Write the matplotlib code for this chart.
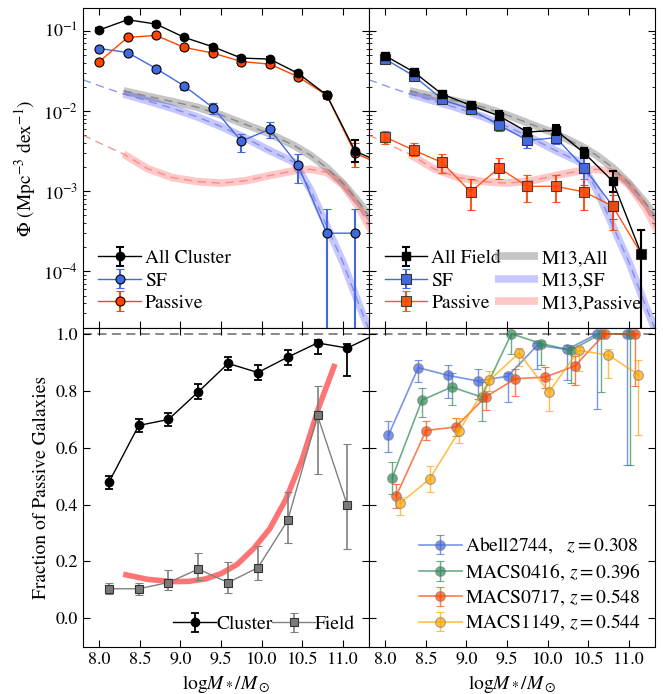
import numpy as np
import matplotlib
matplotlib.use('Agg')
import matplotlib.pyplot as plt

plt.rcParams['font.family'] = ['STIXGeneral', 'DejaVu Serif']
plt.rcParams['mathtext.fontset'] = 'stix'
plt.rcParams['xtick.direction'] = 'in'
plt.rcParams['ytick.direction'] = 'in'
plt.rcParams['xtick.top'] = True
plt.rcParams['ytick.right'] = True

# ---- top panels: stellar mass functions ----
mass_smf = [8.0, 8.35, 8.7, 9.05, 9.4, 9.75, 10.1, 10.45, 10.8, 11.15, 11.5]

cl_all = [0.102, 0.137, 0.121, 0.0824, 0.063, 0.0456, 0.0443, 0.0293, 0.0158, 0.00316, 0.0022]
cl_all_lo = [0.097, 0.131, 0.115, 0.078, 0.059, 0.0425, 0.041, 0.027, 0.0145, 0.00234, 0.0018]
cl_all_hi = [0.107, 0.143, 0.127, 0.087, 0.067, 0.049, 0.0475, 0.0318, 0.0172, 0.0043, 0.0027]

cl_sf = [0.060, 0.0535, 0.0338, 0.0204, 0.011, 0.00422, 0.0059, 0.0021, 0.0003, 0.0003]
cl_sf_lo = [0.057, 0.050, 0.0315, 0.0185, 0.0091, 0.0031, 0.0046, 0.00127, 1e-6, 1e-6]
cl_sf_hi = [0.063, 0.057, 0.0362, 0.0225, 0.0127, 0.0052, 0.0073, 0.0029, 0.0006, 0.0006]

cl_pas = [0.041, 0.0824, 0.0873, 0.0618, 0.0526, 0.0413, 0.0383, 0.0266, 0.0157, 0.00296, 0.0021]
cl_pas_lo = [0.038, 0.078, 0.083, 0.058, 0.049, 0.038, 0.035, 0.024, 0.0142, 0.0020, 0.0016]
cl_pas_hi = [0.044, 0.087, 0.092, 0.065, 0.056, 0.045, 0.042, 0.029, 0.0173, 0.0040, 0.0026]

fd_all = [0.0487, 0.0307, 0.0162, 0.0118, 0.00866, 0.00546, 0.00574, 0.00299, 0.00133, 0.000166]
fd_all_lo = [0.046, 0.029, 0.0152, 0.0110, 0.0077, 0.0049, 0.0050, 0.0026, 0.00098, 1e-6]
fd_all_hi = [0.0515, 0.0325, 0.0172, 0.0127, 0.0100, 0.0062, 0.0066, 0.0035, 0.00178, 0.00033]

fd_sf = [0.0443, 0.0274, 0.014, 0.0105, 0.00668, 0.0043, 0.00464, 0.00195, 0.00065]
fd_sf_lo = [0.042, 0.026, 0.0132, 0.0098, 0.0056, 0.00349, 0.00386, 0.0012, 0.00045]
fd_sf_hi = [0.047, 0.029, 0.0148, 0.0112, 0.0077, 0.00522, 0.00575, 0.0026, 0.0009]

fd_pas = [0.00473, 0.00325, 0.00228, 0.00098, 0.00195, 0.00115, 0.00115, 0.00098, 0.00065, 0.000166]
fd_pas_lo = [0.0039, 0.00275, 0.00169, 0.00059, 0.00143, 0.00073, 0.00073, 0.00059, 0.00033, 1e-6]
fd_pas_hi = [0.0056, 0.0040, 0.0029, 0.00141, 0.00256, 0.0016, 0.0016, 0.00143, 0.0010, 0.00033]

# Muzzin+13 curves
m13_mass = [7.8, 8.05, 8.3, 8.6, 8.9, 9.2, 9.5, 9.8, 10.1, 10.4, 10.6, 10.8, 11.0, 11.2, 11.35]
m13_all = [0.026, 0.0215, 0.0178, 0.0152, 0.0131, 0.0112, 0.0089, 0.0068, 0.0052, 0.0037, 0.0028,
           0.00196, 0.00125, 0.00072, 0.00045]
m13_sf = [0.0245, 0.0198, 0.0163, 0.0133, 0.0108, 0.0085, 0.0064, 0.0046, 0.0032, 0.0023, 0.00105,
          0.00037, 0.00013, 0.000038, 0.000016]
m13_pas = [0.0050, 0.0038, 0.0029, 0.0019, 0.00148, 0.00132, 0.00126, 0.00135, 0.00157, 0.0018,
           0.00188, 0.00172, 0.0012, 0.00062, 0.00032]
m13_start = 8.3

# ---- bottom panels: passive fractions ----
mass_frac = [8.12, 8.487, 8.853, 9.22, 9.587, 9.953, 10.32, 10.687, 11.053, 11.42]

frac_cl = [0.478, 0.678, 0.699, 0.796, 0.896, 0.864, 0.918, 0.968, 0.950, 1.0]
frac_cl_lo = [0.455, 0.656, 0.677, 0.770, 0.873, 0.838, 0.891, 0.930, 0.852, 1.0]
frac_cl_hi = [0.501, 0.700, 0.721, 0.822, 0.919, 0.890, 0.942, 0.978, 0.964, 1.0]

frac_fd = [0.104, 0.104, 0.126, 0.173, 0.126, 0.178, 0.344, 0.713, 0.398]
frac_fd_lo = [0.084, 0.082, 0.099, 0.136, 0.090, 0.135, 0.266, 0.509, 0.242]
frac_fd_hi = [0.124, 0.126, 0.169, 0.230, 0.199, 0.256, 0.444, 0.817, 0.613]

fit_mass = [8.33, 8.6, 8.9, 9.1, 9.3, 9.5, 9.7, 9.9, 10.1, 10.3, 10.5, 10.7, 10.89]
fit_frac = [0.153, 0.137, 0.129, 0.130, 0.138, 0.157, 0.190, 0.245, 0.315, 0.420, 0.560, 0.740, 0.885]

cluster_names = ['Abell2744,   $z=$0.308', 'MACS0416, $z=$0.396',
                 'MACS0717, $z=$0.548', 'MACS1149, $z=$0.544']
cluster_colors = ['royalblue', 'seagreen', 'orangered', 'orange']
cluster_shift = [-0.08, -0.035, 0.015, 0.06]
cluster_frac = [
    [0.644, 0.881, 0.854, 0.834, 0.851, 0.960, 0.945, 1.0, 1.0],
    [0.493, 0.767, 0.813, 0.778, 1.0, 0.966, 0.942, 1.0, 1.0],
    [0.430, 0.660, 0.673, 0.778, 0.842, 0.848, 0.887, 1.0, 1.0],
    [0.404, 0.490, 0.660, 0.836, 0.933, 0.795, 0.942, 0.925, 0.857],
]
cluster_lo = [
    [0.584, 0.830, 0.775, 0.772, 0.760, 0.877, 0.836, 0.737, 0.540],
    [0.438, 0.709, 0.750, 0.695, 0.928, 0.890, 0.828, 0.795, 0.540],
    [0.389, 0.626, 0.640, 0.734, 0.783, 0.810, 0.819, 1.0, 0.816],
    [0.362, 0.443, 0.617, 0.798, 0.887, 0.728, 0.871, 0.843, 0.643],
]
cluster_hi = [
    [0.693, 0.907, 0.892, 0.877, 0.863, 0.968, 0.960, 1.0, 1.0],
    [0.549, 0.808, 0.863, 0.830, 1.0, 0.974, 0.953, 1.0, 1.0],
    [0.473, 0.692, 0.705, 0.799, 0.877, 0.883, 0.922, 1.0, 1.0],
    [0.428, 0.535, 0.705, 0.871, 0.951, 0.840, 0.953, 0.947, 0.908],
]


def yerr(y, lo, hi):
    y = np.asarray(y)
    return [y - np.asarray(lo), np.asarray(hi) - y]


def draw_m13(ax, with_labels=False):
    m = np.asarray(m13_mass)
    keep = m >= m13_start - 0.01
    # (values, band colour, band alpha, dash colour, label, dashed extension to low mass)
    specs = [(m13_all, 'gray', 0.45, '#7a7a7a', 'M13,All', False),
             (m13_sf, 'blue', 0.22, '#7080e0', 'M13,SF', True),
             (m13_pas, 'red', 0.22, '#f08080', 'M13,Passive', True)]
    handles = []
    for vals, col, al, dcol, lab, ext in specs:
        v = np.asarray(vals)
        h, = ax.plot(m[keep], v[keep], color=col, alpha=al, lw=5.5,
                     solid_capstyle='butt', zorder=1,
                     label=lab if with_labels else None)
        dsel = slice(None) if ext else keep
        ax.plot(m[dsel], v[dsel], color=dcol, lw=1.0, ls=(0, (6, 4)), alpha=0.8, zorder=2)
        handles.append(h)
    return handles


fig, axes = plt.subplots(2, 2, figsize=(6.63, 6.94), dpi=100, sharex=True, sharey='row',
                         gridspec_kw=dict(hspace=0, wspace=0))
fig.subplots_adjust(left=0.125, right=0.988, top=0.988, bottom=0.068)
ax_tl, ax_tr = axes[0]
ax_bl, ax_br = axes[1]

# top left: cluster SMF
draw_m13(ax_tl)
e_all = ax_tl.errorbar(mass_smf, cl_all, yerr=yerr(cl_all, cl_all_lo, cl_all_hi), fmt='-o',
                       color='k', mfc='k', mec='k', ms=6, lw=1, elinewidth=1.5, capsize=3,
                       capthick=1.5, label='All Cluster', zorder=5)
e_sf = ax_tl.errorbar(mass_smf[:10], cl_sf, yerr=yerr(cl_sf, cl_sf_lo, cl_sf_hi), fmt='-o',
                      color='royalblue', mec='k', mew=0.8, ms=6.5, lw=1, elinewidth=1.5,
                      capsize=3, capthick=1.5, label='SF', zorder=4)
e_pas = ax_tl.errorbar(mass_smf, cl_pas, yerr=yerr(cl_pas, cl_pas_lo, cl_pas_hi), fmt='-o',
                       color='orangered', mec='k', mew=0.8, ms=6.5, lw=1, elinewidth=1.5,
                       capsize=3, capthick=1.5, label='Passive', zorder=4)
ax_tl.set_yscale('log')
ax_tl.set_ylim(2e-5, 0.19)
ax_tl.set_ylabel(r'$\Phi$ (Mpc$^{-3}$ dex$^{-1}$)', fontsize=14)
ax_tl.legend(handles=[e_all, e_sf, e_pas], loc='lower left', frameon=False, fontsize=14,
             handlelength=2.2, handletextpad=0.2, labelspacing=0.25, borderaxespad=0.4)

# top right: field SMF
m13_handles = draw_m13(ax_tr, with_labels=True)
f_all = ax_tr.errorbar(mass_smf[:10], fd_all, yerr=yerr(fd_all, fd_all_lo, fd_all_hi), fmt='-s',
                       color='k', mfc='k', mec='k', ms=6, lw=1, elinewidth=1.5, capsize=3,
                       capthick=1.5, label='All Field', zorder=5)
f_sf = ax_tr.errorbar(mass_smf[:9], fd_sf, yerr=yerr(fd_sf, fd_sf_lo, fd_sf_hi), fmt='-s',
                      color='royalblue', mec='#333333', mew=0.8, ms=6.5, lw=1, elinewidth=1.5,
                      capsize=3, capthick=1.5, label='SF', zorder=4)
f_pas = ax_tr.errorbar(mass_smf[:10], fd_pas, yerr=yerr(fd_pas, fd_pas_lo, fd_pas_hi), fmt='-s',
                       color='orangered', mec='#333333', mew=0.8, ms=6.5, lw=1, elinewidth=1.5,
                       capsize=3, capthick=1.5, label='Passive', zorder=4, alpha=0.9)
ax_tr.tick_params(labelleft=False)
ax_tr.legend(handles=[f_all, f_sf, f_pas] + m13_handles, loc='lower left', frameon=False,
             fontsize=14, ncol=2, handlelength=2.2, handletextpad=0.2, labelspacing=0.25,
             columnspacing=-0.3, borderaxespad=0.4)

# bottom left: passive fraction
ax_bl.axhline(1.0, color='gray', ls=(0, (5, 3)), lw=1.3, zorder=0)
ax_br.axhline(1.0, color='gray', ls=(0, (5, 3)), lw=1.3, zorder=0)
ax_bl.plot(fit_mass, fit_frac, color='red', alpha=0.55, lw=4, zorder=1)
b_cl = ax_bl.errorbar(mass_frac, frac_cl, yerr=yerr(frac_cl, frac_cl_lo, frac_cl_hi), fmt='-o',
                      color='k', ms=6, lw=1, elinewidth=1.3, capsize=3, capthick=1.3,
                      label='Cluster', zorder=4)
b_fd = ax_bl.errorbar(mass_frac[:9], frac_fd, yerr=yerr(frac_fd, frac_fd_lo, frac_fd_hi), fmt='-s',
                      color='gray', mfc='#7a7a7a', mec='#333333', mew=0.8, ms=6, lw=1,
                      elinewidth=1.2, capsize=3, capthick=1.2, label='Field', zorder=3)
ax_bl.set_ylim(-0.1, 1.022)
ax_bl.set_yticks([0.0, 0.2, 0.4, 0.6, 0.8, 1.0])
ax_bl.set_ylabel('Fraction of Passive Galaxies', fontsize=14)
ax_bl.set_xlabel(r'$\mathrm{log}M_*/M_\odot$', fontsize=14)
ax_bl.legend(handles=[b_cl, b_fd], loc='lower right', frameon=False, fontsize=14, ncol=2,
             handlelength=2.2, handletextpad=0.0, columnspacing=0.0, borderaxespad=0.3)

# bottom right: individual clusters
br_handles = []
for name, col, sh, yv, lo, hi in zip(cluster_names, cluster_colors, cluster_shift,
                                     cluster_frac, cluster_lo, cluster_hi):
    xs = np.asarray(mass_frac[:9]) + sh
    h = ax_br.errorbar(xs, yv, yerr=yerr(yv, lo, hi), fmt='-o', color=col, mec='gray', mew=0.8,
                       ms=7, lw=1.2, elinewidth=1.0, capsize=3, alpha=0.7, label=name, zorder=3)
    br_handles.append(h)
ax_br.tick_params(labelleft=False)
ax_br.set_xlabel(r'$\mathrm{log}M_*/M_\odot$', fontsize=14)
ax_br.legend(handles=br_handles, loc='lower right', frameon=False, fontsize=14,
             handlelength=2.2, handletextpad=0.2, labelspacing=0.25, borderaxespad=0.3)

ax_bl.set_xlim(7.8, 11.32)
ax_bl.set_xticks([8.0, 8.5, 9.0, 9.5, 10.0, 10.5, 11.0])
ax_bl.set_xticklabels(['8.0', '8.5', '9.0', '9.5', '10.0', '10.5', '11.0'])

for ax in axes.flat:
    ax.tick_params(which='major', length=5, labelsize=13)
    ax.tick_params(which='minor', length=2.5)

fig.savefig('out.png', dpi=100)
